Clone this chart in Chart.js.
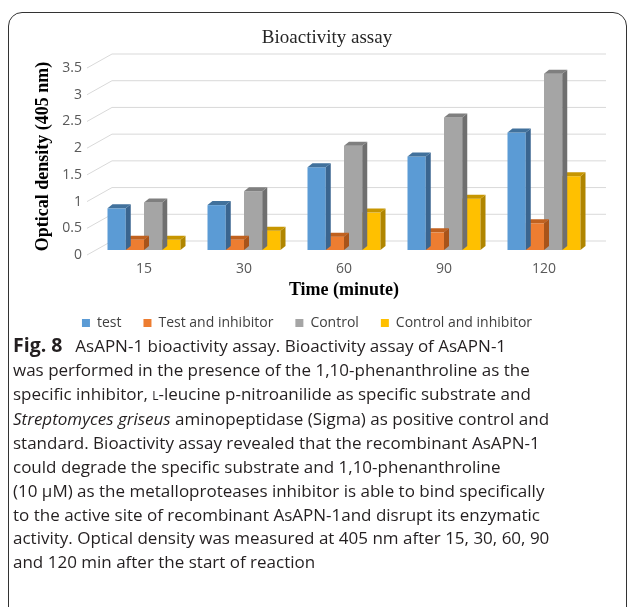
<!DOCTYPE html>
<html>
<head>
<meta charset="utf-8">
<script src="https://cdn.jsdelivr.net/npm/chart.js@4.4.1/dist/chart.umd.min.js"></script>
<style>
  html, body { margin: 0; padding: 0; background: #fff; overflow: hidden; }
  body { width: 627px; height: 607px; position: relative; }
  #frame {
    position: absolute; left: 8px; top: 12px; width: 619px; height: 640px;
    border: 1.5px solid #333; border-radius: 14px; box-sizing: border-box;
  }
  #chart { position: absolute; left: 0; top: 0; }
  #caption {
    position: absolute; left: 13px; top: 333px;
    font-family: "Open Sans", sans-serif; font-size: 17px; line-height: 23.8px;
    color: #231f20; white-space: nowrap;
  }
  #caption b { font-size: 19.5px; margin-right: 4px; }
  .sc { font-size: 12px; }
</style>
</head>
<body>
<div id="frame"></div>
<canvas id="chart" width="627" height="340"></canvas>
<div id="caption">
<b>Fig. 8</b>&nbsp; AsAPN-1 bioactivity assay. Bioactivity assay of AsAPN-1<br>
was performed in the presence of the 1,10-phenanthroline as the<br>
specific inhibitor, <span class="sc">L</span>-leucine p-nitroanilide as specific substrate and<br>
<i>Streptomyces griseus</i> aminopeptidase (Sigma) as positive control and<br>
standard. Bioactivity assay revealed that the recombinant AsAPN-1<br>
could degrade the specific substrate and 1,10-phenanthroline<br>
(10 µM) as the metalloproteases inhibitor is able to bind specifically<br>
to the active site of recombinant AsAPN-1and disrupt its enzymatic<br>
activity. Optical density was measured at 405 nm after 15, 30, 60, 90<br>
and 120 min after the start of reaction
</div>
<script>
// data
var times = ['15', '30', '60', '90', '120'];
var seriesNames = ['test', 'Test and inhibitor', 'Control', 'Control and inhibitor'];
var testValues = [0.78, 0.84, 1.55, 1.75, 2.2];
var testInhibitorValues = [0.19, 0.19, 0.25, 0.33, 0.5];
var controlValues = [0.89, 1.1, 1.95, 2.48, 3.3];
var controlInhibitorValues = [0.19, 0.36, 0.7, 0.96, 1.38];

// styling
var frontColors = ['#5B9BD5', '#ED7D31', '#A5A5A5', '#FFC000'];
var topColors = ['#41719C', '#C0611F', '#7F7F7F', '#C79600'];
var sideColors = ['#3A6590', '#A8541A', '#6F6F6F', '#B08500'];
var depthX = 5, depthY = -4;

var ctx = document.getElementById('chart');

// back wall gridlines (Excel style 3d)
var backGrid = {
    id: 'backGrid',
    beforeDatasetsDraw: function (chart) {
        var c = chart.ctx, y = chart.scales.y, area = chart.chartArea;
        c.save();
        c.strokeStyle = '#D9D9D9';
        c.lineWidth = 1;
        y.ticks.forEach(function (t) {
            var py = y.getPixelForValue(t.value);
            c.beginPath();
            c.moveTo(area.left - 7, py + 5);
            c.lineTo(area.left + 18, py - 9);
            c.lineTo(606, py - 9);
            c.stroke();
        });
        c.restore();
    }
};

// top and side faces of each bar
var bars3d = {
    id: 'bars3d',
    afterDatasetDraw: function (chart, args) {
        var c = chart.ctx;
        var i = args.index;
        c.save();
        args.meta.data.forEach(function (bar) {
            var p = bar.getProps(['x', 'y', 'base', 'width'], true);
            var l = p.x - p.width / 2, r = p.x + p.width / 2;
            c.fillStyle = sideColors[i];
            c.beginPath();
            c.moveTo(r, p.y);
            c.lineTo(r + depthX, p.y + depthY);
            c.lineTo(r + depthX, p.base + depthY);
            c.lineTo(r, p.base);
            c.closePath();
            c.fill();
            c.fillStyle = topColors[i];
            c.beginPath();
            c.moveTo(l, p.y);
            c.lineTo(l + depthX, p.y + depthY);
            c.lineTo(r + depthX, p.y + depthY);
            c.lineTo(r, p.y);
            c.closePath();
            c.fill();
        });
        c.restore();
    },
    afterLayout: function (chart) {
        // title sits a bit right of the legend centre in the picture
        chart.titleBlock.left += 20;
        chart.titleBlock.right += 20;
    }
};

new Chart(ctx, {
    type: 'bar',
    data: {
        labels: times,
        datasets: [
            { label: seriesNames[0], data: testValues, backgroundColor: frontColors[0] },
            { label: seriesNames[1], data: testInhibitorValues, backgroundColor: frontColors[1] },
            { label: seriesNames[2], data: controlValues, backgroundColor: frontColors[2] },
            { label: seriesNames[3], data: controlInhibitorValues, backgroundColor: frontColors[3] }
        ]
    },
    options: {
        responsive: false,
        animation: false,
        devicePixelRatio: 1,
        layout: { padding: { left: 20, right: 33, top: 0, bottom: 0 } },
        datasets: { bar: { barPercentage: 1, categoryPercentage: 0.73, borderWidth: 0 } },
        plugins: {
            tooltip: { enabled: false },
            title: {
                display: true,
                text: 'Bioactivity assay',
                color: '#262626',
                font: { family: 'Liberation Serif', size: 19, weight: 'normal' },
                padding: { top: 26.6, bottom: 13.6 }
            },
            legend: {
                position: 'bottom',
                labels: {
                    boxWidth: 8,
                    boxHeight: 8,
                    padding: 22,
                    color: '#404040',
                    font: { family: 'Open Sans', size: 14 }
                }
            }
        },
        scales: {
            x: {
                grid: { display: false, drawTicks: false },
                border: { display: false },
                ticks: { color: '#595959', padding: 10.5, font: { family: 'Open Sans', size: 14 } },
                title: {
                    display: true,
                    text: 'Time (minute)',
                    color: '#000',
                    font: { family: 'Liberation Serif', size: 18, weight: 'bold' },
                    padding: { top: 0, bottom: -6.8 }
                },
                afterFit: function (s) { s.height = 44; }
            },
            y: {
                min: 0,
                max: 3.5,
                grid: { display: false, drawTicks: false },
                border: { display: false },
                ticks: {
                    stepSize: 0.5, color: '#595959', padding: 12, labelOffset: 5,
                    font: { family: 'Open Sans', size: 14 },
                    callback: function (v) { return String(v); }
                },
                title: {
                    display: true,
                    text: 'Optical density (405 nm)',
                    color: '#000',
                    font: { family: 'Liberation Serif', size: 18, weight: 'bold' },
                    padding: { top: 12.2, bottom: 10 }
                },
                afterFit: function (s) { s.width = 74; }
            }
        }
    },
    plugins: [backGrid, bars3d]
});
</script>
</body>
</html>
